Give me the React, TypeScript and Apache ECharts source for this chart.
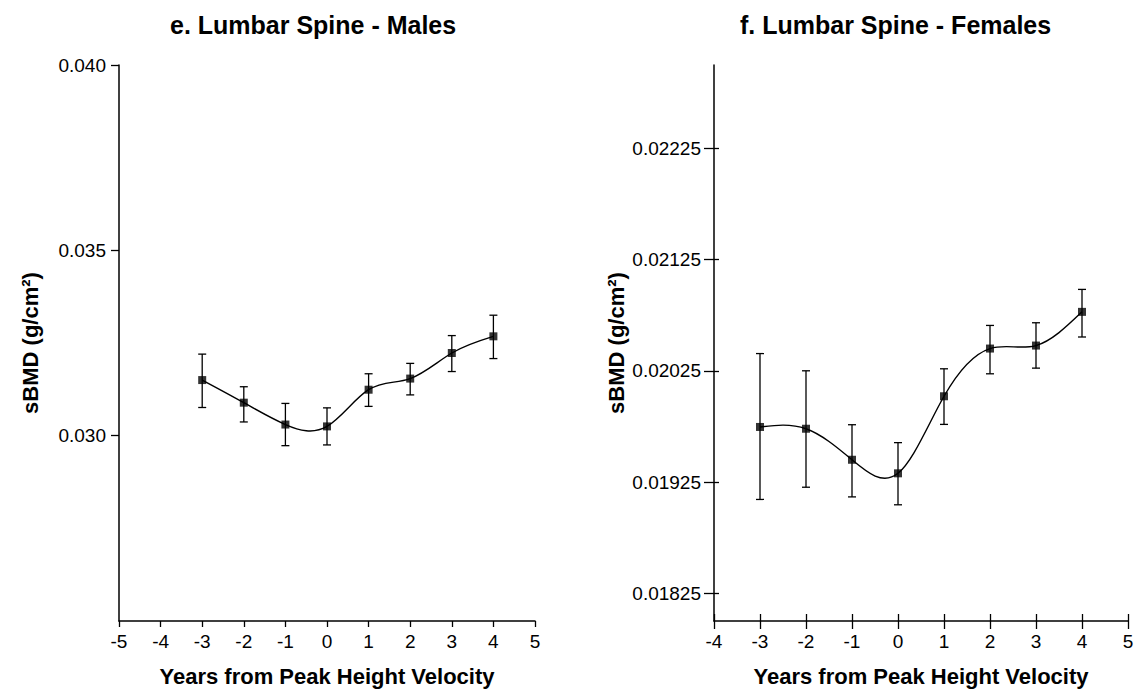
import React, { useEffect, useRef } from "react";
import * as echarts from "echarts";

// Years from peak height velocity
const years = [-3, -2, -1, 0, 1, 2, 3, 4];

// e. Lumbar spine, males: mean sBMD and error-bar limits (g/cm²)
const maleMean = [0.0315, 0.03089, 0.0303, 0.03025, 0.03124, 0.03154, 0.03223, 0.03268];
const maleLow = [0.03076, 0.03037, 0.02973, 0.02975, 0.03079, 0.0311, 0.03173, 0.03208];
const maleHigh = [0.0322, 0.03132, 0.03087, 0.03075, 0.03167, 0.03195, 0.0327, 0.03325];

// f. Lumbar spine, females
const femaleMean = [0.019745, 0.019729, 0.01945, 0.019328, 0.020021, 0.02045, 0.020477, 0.02078];
const femaleLow = [0.019093, 0.019203, 0.019116, 0.019045, 0.019768, 0.020223, 0.020274, 0.020554];
const femaleHigh = [0.020405, 0.02025, 0.019765, 0.019604, 0.020268, 0.020658, 0.020682, 0.020982];

// Labelled y ticks
const maleTicks = [0.03, 0.035, 0.04];
const femaleTicks = [0.01825, 0.01925, 0.02025, 0.02125, 0.02225];

const FONT = "'Liberation Sans', Arial, Helvetica, sans-serif";
const INK = "#000";

// Natural cubic spline through the points (in pixel space), drawn as bezier segments.
function splineRenderer(xs: number[], ys: number[]) {
  return (params: any, api: any) => {
    if (params.dataIndex !== 0) return null;
    const pts = xs.map((x, i) => api.coord([x, ys[i]]));
    const n = pts.length;
    const h: number[] = [];
    for (let i = 0; i < n - 1; i++) h.push(pts[i + 1][0] - pts[i][0]);
    const M = new Array(n).fill(0);
    const m = n - 2;
    if (m > 0) {
      const a: number[] = [], b: number[] = [], c: number[] = [], d: number[] = [];
      for (let k = 0; k < m; k++) {
        const i = k + 1;
        a.push(h[i - 1]);
        b.push(2 * (h[i - 1] + h[i]));
        c.push(h[i]);
        d.push(6 * ((pts[i + 1][1] - pts[i][1]) / h[i] - (pts[i][1] - pts[i - 1][1]) / h[i - 1]));
      }
      for (let k = 1; k < m; k++) {
        const w = a[k] / b[k - 1];
        b[k] -= w * c[k - 1];
        d[k] -= w * d[k - 1];
      }
      const sol = new Array(m).fill(0);
      sol[m - 1] = d[m - 1] / b[m - 1];
      for (let k = m - 2; k >= 0; k--) sol[k] = (d[k] - c[k] * sol[k + 1]) / b[k];
      for (let k = 0; k < m; k++) M[k + 1] = sol[k];
    }
    const children: any[] = [];
    for (let i = 0; i < n - 1; i++) {
      const [x0, y0] = pts[i];
      const [x1, y1] = pts[i + 1];
      const hh = h[i];
      const s = (y1 - y0) / hh;
      const d0 = s - (hh * (2 * M[i] + M[i + 1])) / 6;
      const d1 = s + (hh * (M[i] + 2 * M[i + 1])) / 6;
      children.push({
        type: "bezierCurve",
        shape: {
          x1: x0, y1: y0,
          cpx1: x0 + hh / 3, cpy1: y0 + (d0 * hh) / 3,
          cpx2: x1 - hh / 3, cpy2: y1 - (d1 * hh) / 3,
          x2: x1, y2: y1,
        },
        style: { stroke: INK, lineWidth: 1.4, fill: null },
      });
    }
    return { type: "group", children };
  };
}

// Vertical error bar with short caps.
function errorBarItem(params: any, api: any) {
  const x = api.value(0);
  const lo = api.coord([x, api.value(1)]);
  const hi = api.coord([x, api.value(2)]);
  const w = 4;
  const style = { stroke: INK, lineWidth: 1.3 };
  return {
    type: "group",
    children: [
      { type: "line", shape: { x1: lo[0], y1: lo[1], x2: hi[0], y2: hi[1] }, style },
      { type: "line", shape: { x1: hi[0] - w, y1: hi[1], x2: hi[0] + w, y2: hi[1] }, style },
      { type: "line", shape: { x1: lo[0] - w, y1: lo[1], x2: lo[0] + w, y2: lo[1] }, style },
    ],
  };
}

const tickLabel = { color: INK, fontSize: 19, fontFamily: FONT };
const axisName = { color: INK, fontSize: 22, fontWeight: "bold" as const, fontFamily: FONT };
const axisLine = { show: true, onZero: false, lineStyle: { color: INK, width: 1.5 } };
const hiddenLine = { show: false, onZero: false };

function panelSeries(axisIndex: number, mean: number[], low: number[], high: number[]) {
  return [
    {
      type: "custom",
      xAxisIndex: axisIndex,
      yAxisIndex: axisIndex,
      renderItem: splineRenderer(years, mean),
      data: [[years[0], mean[0]]],
      encode: { x: 0, y: 1 },
      silent: true,
      z: 2,
    },
    {
      type: "custom",
      xAxisIndex: axisIndex,
      yAxisIndex: axisIndex,
      renderItem: errorBarItem,
      data: years.map((y, i) => [y, low[i], high[i]]),
      encode: { x: 0, y: [1, 2] },
      silent: true,
      z: 3,
    },
    {
      type: "scatter",
      xAxisIndex: axisIndex,
      yAxisIndex: axisIndex,
      data: years.map((y, i) => [y, mean[i]]),
      symbol: "rect",
      symbolSize: 8,
      itemStyle: { color: INK },
      silent: true,
      z: 4,
    },
  ];
}

export default function App() {
  const ref = useRef<HTMLDivElement>(null);

  useEffect(() => {
    if (!ref.current) return;
    const chart = echarts.init(ref.current, null, { renderer: "svg" });
    chart.setOption({
      animation: false,
      backgroundColor: "#fff",
      title: [
        {
          text: "e. Lumbar Spine - Males",
          left: 165,
          top: 7,
          textStyle: { color: INK, fontSize: 25, fontWeight: "bold", fontFamily: FONT },
        },
        {
          text: "f. Lumbar Spine - Females",
          left: 735,
          top: 7,
          textStyle: { color: INK, fontSize: 25, fontWeight: "bold", fontFamily: FONT },
        },
      ],
      grid: [
        { left: 119, top: 65, width: 416, height: 556 },
        { left: 714, top: 65, width: 414, height: 556 },
      ],
      xAxis: [
        {
          gridIndex: 0,
          type: "value",
          position: "bottom",
          min: -5,
          max: 5,
          interval: 1,
          axisLine,
          axisTick: { show: true, length: 6, lineStyle: { color: INK, width: 1.3 } },
          axisLabel: { ...tickLabel, margin: 11 },
          splitLine: { show: false },
          name: "Years from Peak Height Velocity",
          nameLocation: "middle",
          nameGap: 44,
          nameTextStyle: axisName,
        },
        {
          gridIndex: 1,
          type: "value",
          position: "bottom",
          min: -4,
          max: 5,
          interval: 1,
          axisLine,
          axisTick: { show: true, length: 8, lineStyle: { color: INK, width: 1.3 } },
          axisLabel: { ...tickLabel, margin: 11 },
          splitLine: { show: false },
          name: "Years from Peak Height Velocity",
          nameLocation: "middle",
          nameGap: 44,
          nameTextStyle: axisName,
        },
        {
          // inner half of the crossing ticks on the right panel
          gridIndex: 1,
          type: "value",
          position: "bottom",
          offset: 0,
          min: -4,
          max: 5,
          interval: 1,
          axisLine: hiddenLine,
          axisTick: { show: true, inside: true, length: 7, lineStyle: { color: INK, width: 1.3 } },
          axisLabel: { show: false },
          splitLine: { show: false },
        },
      ],
      yAxis: [
        {
          gridIndex: 0,
          type: "value",
          position: "left",
          min: 0.025,
          max: 0.04,
          axisLine,
          axisTick: { show: true, length: 8, customValues: maleTicks, lineStyle: { color: INK, width: 1.3 } },
          axisLabel: {
            ...tickLabel,
            margin: 13,
            customValues: maleTicks,
            formatter: (v: number) => v.toFixed(3),
          },
          splitLine: { show: false },
          name: "sBMD (g/cm²)",
          nameLocation: "middle",
          nameGap: 78,
          nameTextStyle: axisName,
        },
        {
          gridIndex: 1,
          type: "value",
          position: "left",
          min: 0.018,
          max: 0.023,
          axisLine,
          axisTick: { show: true, length: 10, customValues: femaleTicks, lineStyle: { color: INK, width: 1.3 } },
          axisLabel: {
            ...tickLabel,
            margin: 13,
            customValues: femaleTicks,
            formatter: (v: number) => v.toFixed(5),
          },
          splitLine: { show: false },
          name: "sBMD (g/cm²)",
          nameLocation: "middle",
          nameGap: 87,
          nameTextStyle: axisName,
        },
        {
          gridIndex: 1,
          type: "value",
          position: "left",
          offset: 0,
          min: 0.018,
          max: 0.023,
          axisLine: hiddenLine,
          axisTick: { show: true, inside: true, length: 5, customValues: femaleTicks, lineStyle: { color: INK, width: 1.3 } },
          axisLabel: { show: false, customValues: femaleTicks },
          splitLine: { show: false },
        },
      ],
      series: [
        ...panelSeries(0, maleMean, maleLow, maleHigh),
        ...panelSeries(1, femaleMean, femaleLow, femaleHigh),
      ],
    });
    return () => chart.dispose();
  }, []);

  return (
    <div
      ref={ref}
      style={{ position: "absolute", left: 0, top: 0, width: 1145, height: 696, background: "#fff" }}
    />
  );
}
